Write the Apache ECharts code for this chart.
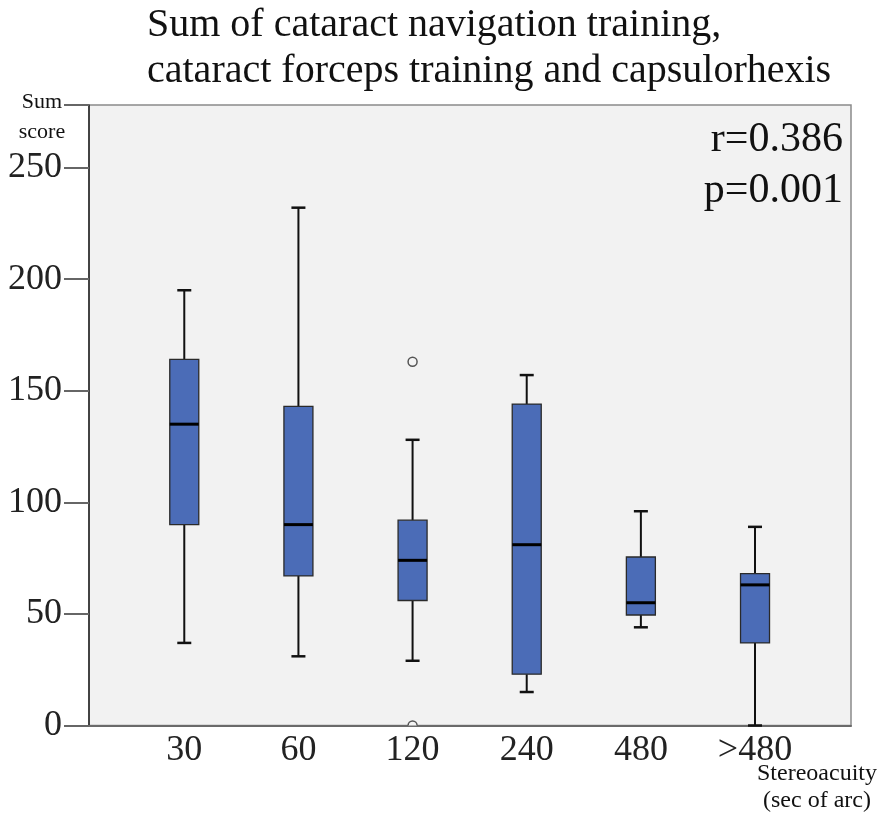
<!DOCTYPE html>
<html><head><meta charset="utf-8">
<script src="https://cdn.jsdelivr.net/npm/echarts@6/dist/echarts.min.js"></script>
<style>html,body{margin:0;padding:0;background:#fff}#c{width:888px;height:814px}</style>
</head><body><div id="c"></div>
<script>
const categories = ['30', '60', '120', '240', '480', '>480'];
const whiskerLow = [37, 31, 29, 15, 44, 0];
const q1 = [90, 67, 56, 23, 49.5, 37];
const median = [135, 90, 74, 81, 55, 63];
const q3 = [164, 143, 92, 144, 75.5, 68];
const whiskerHigh = [195, 232, 128, 157, 96, 89];
const outlierCategory = [2, 2];
const outlierValue = [163, 0];
const yTicks = [0, 50, 100, 150, 200, 250];

const boxData = categories.map((c, i) => [i, whiskerLow[i], q1[i], median[i], q3[i], whiskerHigh[i]]);
const outData = outlierCategory.map((c, i) => [c, outlierValue[i]]);
const FONT = '"Liberation Serif", "DejaVu Serif", serif';

function renderBox(params, api) {
  const x = api.value(0);
  const lo = api.coord([x, api.value(1)]);
  const b1 = api.coord([x, api.value(2)]);
  const md = api.coord([x, api.value(3)]);
  const b3 = api.coord([x, api.value(4)]);
  const hi = api.coord([x, api.value(5)]);
  const cx = lo[0], bw = 29, cw = 14;
  const ls = {stroke: '#111', lineWidth: 2};
  return {type: 'group', children: [
    {type: 'line', shape: {x1: cx, y1: hi[1], x2: cx, y2: b3[1]}, style: ls},
    {type: 'line', shape: {x1: cx, y1: b1[1], x2: cx, y2: lo[1]}, style: ls},
    {type: 'line', shape: {x1: cx - cw / 2, y1: hi[1], x2: cx + cw / 2, y2: hi[1]}, style: {stroke: '#111', lineWidth: 2.5}},
    {type: 'line', shape: {x1: cx - cw / 2, y1: lo[1], x2: cx + cw / 2, y2: lo[1]}, style: {stroke: '#111', lineWidth: 2.5}},
    {type: 'rect', shape: {x: cx - bw / 2, y: b3[1], width: bw, height: b1[1] - b3[1]}, style: {fill: '#4b6cb7', stroke: '#2a2a2a', lineWidth: 1.3}},
    {type: 'line', shape: {x1: cx - bw / 2, y1: md[1], x2: cx + bw / 2, y2: md[1]}, style: {stroke: '#000', lineWidth: 3}}
  ]};
}

function renderOutlier(params, api) {
  const p = api.coord([api.value(0), api.value(1)]);
  return {type: 'circle', shape: {cx: p[0], cy: p[1], r: 4.5},
    style: {fill: '#f4f4f4', stroke: '#555', lineWidth: 1.5},
    clipPath: {type: 'rect', shape: {x: params.coordSys.x - 60, y: params.coordSys.y, width: params.coordSys.width + 120, height: params.coordSys.height}}};
}

const chart = echarts.init(document.getElementById('c'), null, {renderer: 'canvas'});
chart.setOption({
  animation: false,
  backgroundColor: '#fff',
  grid: [
    {left: 89, right: 37, top: 105, bottom: 88.5, show: true, backgroundColor: '#f2f2f2', borderColor: '#8a8a8a', borderWidth: 1.5},
    {left: 127.2, right: 75.9, top: 105, bottom: 88.5}
  ],
  xAxis: [
    {gridIndex: 0, type: 'value', min: 0, max: 1, axisLabel: {show: false}, axisTick: {show: false}, splitLine: {show: false},
     axisLine: {show: true, lineStyle: {color: '#6a6a6a', width: 2}}},
    {gridIndex: 1, type: 'category', data: categories, boundaryGap: true,
     axisLine: {show: false}, axisTick: {show: false},
     axisLabel: {fontFamily: FONT, fontSize: 36, color: '#222', margin: 7}}
  ],
  yAxis: [
    {gridIndex: 0, type: 'value', min: 0, max: 278, interval: 50,
     axisLine: {show: true, lineStyle: {color: '#222', width: 1.5}},
     axisTick: {show: true, length: 25, lineStyle: {color: '#666', width: 2}},
     splitLine: {show: false},
     axisLabel: {fontFamily: FONT, fontSize: 36, color: '#222', margin: 27,
       formatter: v => yTicks.indexOf(v) >= 0 ? String(v) : ''}},
    {gridIndex: 1, type: 'value', min: 0, max: 278, interval: 50, show: false}
  ],
  series: [
    {type: 'custom', xAxisIndex: 1, yAxisIndex: 1, data: boxData, renderItem: renderBox,
     encode: {x: 0, y: [1, 2, 3, 4, 5]}, z: 3},
    {type: 'custom', xAxisIndex: 1, yAxisIndex: 1, data: outData, renderItem: renderOutlier,
     encode: {x: 0, y: 1}, z: 2}
  ],
  graphic: [
    {type: 'text', x: 147, y: 2, style: {text: 'Sum of cataract navigation training,\ncataract forceps training and capsulorhexis',
      font: '40px ' + FONT, fill: '#111', lineHeight: 46, align: 'left', verticalAlign: 'top'}},
    {type: 'text', x: 843, y: 114, style: {text: 'r=0.386\np=0.001', font: '42px ' + FONT, fill: '#111', lineHeight: 51, align: 'right', verticalAlign: 'top'}},
    {type: 'text', x: 42, y: 87, style: {text: 'Sum\nscore', font: '22px ' + FONT, fill: '#111', lineHeight: 30, align: 'center', verticalAlign: 'top'}},
    {type: 'text', x: 817, y: 760, style: {text: 'Stereoacuity\n(sec of arc)', font: '24px ' + FONT, fill: '#111', lineHeight: 27, align: 'center', verticalAlign: 'top'}}
  ]
});
</script></body></html>
